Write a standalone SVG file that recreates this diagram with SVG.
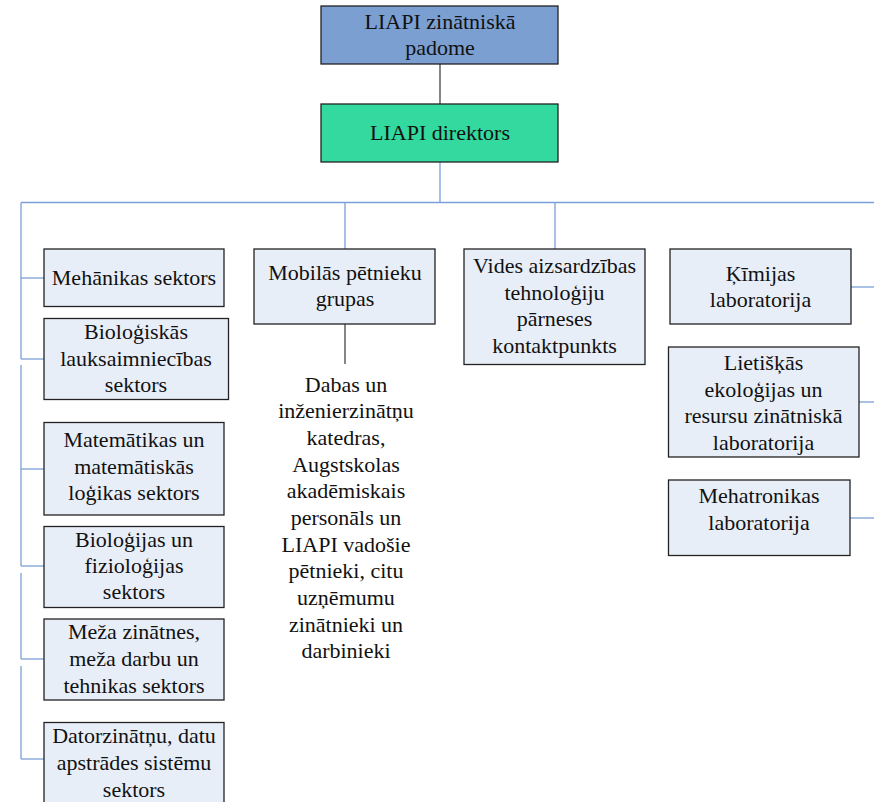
<svg xmlns="http://www.w3.org/2000/svg" width="874" height="802" viewBox="0 0 874 802">
<style>
.box{fill:#e8eef8;stroke:#222;stroke-width:1.3}
.bl{stroke:#7b9fd6;stroke-width:1.3;fill:none}
.dk{stroke:#444;stroke-width:1.3;fill:none}
</style>
<rect width="874" height="802" fill="#fff"/>
<g id="connectors">
<line class="dk" x1="440" y1="64" x2="440" y2="104"/>
<line class="bl" x1="440" y1="162" x2="440" y2="202.5"/>
<line class="bl" x1="21" y1="202.5" x2="874" y2="202.5"/>
<line class="bl" x1="345" y1="202.5" x2="345" y2="249"/>
<line class="bl" x1="555" y1="202.5" x2="555" y2="249"/>
<line class="dk" x1="345" y1="324" x2="345" y2="364"/>
<line class="bl" x1="21" y1="202.5" x2="21" y2="359"/>
<line class="bl" x1="21" y1="365" x2="21" y2="566"/>
<line class="bl" x1="21" y1="573" x2="21" y2="659"/>
<line class="bl" x1="21" y1="666" x2="21" y2="759"/>
<line class="bl" x1="21" y1="278" x2="44" y2="278"/>
<line class="bl" x1="21" y1="359" x2="44" y2="359"/>
<line class="bl" x1="21" y1="469" x2="44" y2="469"/>
<line class="bl" x1="21" y1="566" x2="44" y2="566"/>
<line class="bl" x1="21" y1="659" x2="44" y2="659"/>
<line class="bl" x1="21" y1="759" x2="44" y2="759"/>
<line class="bl" x1="851" y1="287" x2="874" y2="287"/>
<line class="bl" x1="859" y1="402" x2="874" y2="402"/>
<line class="bl" x1="850" y1="518" x2="874" y2="518"/>
</g>
<g font-family="Liberation Serif, Times New Roman, Tinos, DejaVu Serif, Noto Serif, serif" font-size="22" fill="#111" text-anchor="middle">
<g id="padome">
<rect x="321" y="6" width="237" height="58" fill="#7b9fd1" stroke="#222" stroke-width="1.3"/>
<text x="440" y="28.5">LIAPI zinātniskā</text>
<text x="440" y="55">padome</text>
</g>
<g id="direktors">
<rect x="321" y="104" width="237" height="58" fill="#33d99e" stroke="#222" stroke-width="1.3"/>
<text x="440" y="140">LIAPI direktors</text>
</g>
<g id="mobilas">
<rect class="box" x="254" y="249" width="181" height="75"/>
<text x="345" y="279.5">Mobilās pētnieku</text>
<text x="345" y="306">grupas</text>
</g>
<g id="vides">
<rect class="box" x="464" y="249" width="181" height="115.5"/>
<text x="554.5" y="273">Vides aizsardzības</text>
<text x="554.5" y="299.5">tehnoloģiju</text>
<text x="554.5" y="326">pārneses</text>
<text x="554.5" y="352.5">kontaktpunkts</text>
</g>
<g id="dabas">
<text x="346" y="391.7">Dabas un</text>
<text x="346" y="418.3">inženierzinātņu</text>
<text x="346" y="445">katedras,</text>
<text x="346" y="471.7">Augstskolas</text>
<text x="346" y="498.3">akadēmiskais</text>
<text x="346" y="525">personāls un</text>
<text x="346" y="551.7">LIAPI vadošie</text>
<text x="346" y="578.3">pētnieki, citu</text>
<text x="346" y="605">uzņēmumu</text>
<text x="346" y="631.7">zinātnieki un</text>
<text x="346" y="658.3">darbinieki</text>
</g>
<g id="mehanikas">
<rect class="box" x="44" y="249" width="180" height="57.5"/>
<text x="134" y="284.5">Mehānikas sektors</text>
</g>
<g id="biologiskas">
<rect class="box" x="44" y="318.5" width="184.5" height="81"/>
<text x="136" y="339">Bioloģiskās</text>
<text x="136" y="365.5">lauksaimniecības</text>
<text x="136" y="392">sektors</text>
</g>
<g id="matematikas">
<rect class="box" x="44" y="422.5" width="180" height="92.5"/>
<text x="134" y="447.3">Matemātikas un</text>
<text x="134" y="473.5">matemātiskās</text>
<text x="134" y="499.5">loģikas sektors</text>
</g>
<g id="biologijas">
<rect class="box" x="44" y="526.5" width="180" height="81"/>
<text x="134" y="546.7">Bioloģijas un</text>
<text x="134" y="572.7">fizioloģijas</text>
<text x="134" y="599.3">sektors</text>
</g>
<g id="meza">
<rect class="box" x="44" y="619" width="180" height="81"/>
<text x="134" y="639.3">Meža zinātnes,</text>
<text x="134" y="666">meža darbu un</text>
<text x="134" y="692.7">tehnikas sektors</text>
</g>
<g id="datorzinatnu">
<rect class="box" x="44" y="722.5" width="180" height="90"/>
<text x="134" y="743.3">Datorzinātņu, datu</text>
<text x="134" y="770">apstrādes sistēmu</text>
<text x="134" y="796.7">sektors</text>
</g>
<g id="kimijas">
<rect class="box" x="670" y="249" width="181" height="75"/>
<text x="760.5" y="280.7">Ķīmijas</text>
<text x="760.5" y="307.3">laboratorija</text>
</g>
<g id="lietiskas">
<rect class="box" x="668.5" y="347" width="190.5" height="110"/>
<text x="763.5" y="370">Lietišķās</text>
<text x="763.5" y="396.7">ekoloģijas un</text>
<text x="763.5" y="423.3">resursu zinātniskā</text>
<text x="763.5" y="450">laboratorija</text>
</g>
<g id="mehatronikas">
<rect class="box" x="668.5" y="480" width="181.5" height="75.5"/>
<text x="759" y="503.3">Mehatronikas</text>
<text x="759" y="530">laboratorija</text>
</g>
</g>
</svg>
